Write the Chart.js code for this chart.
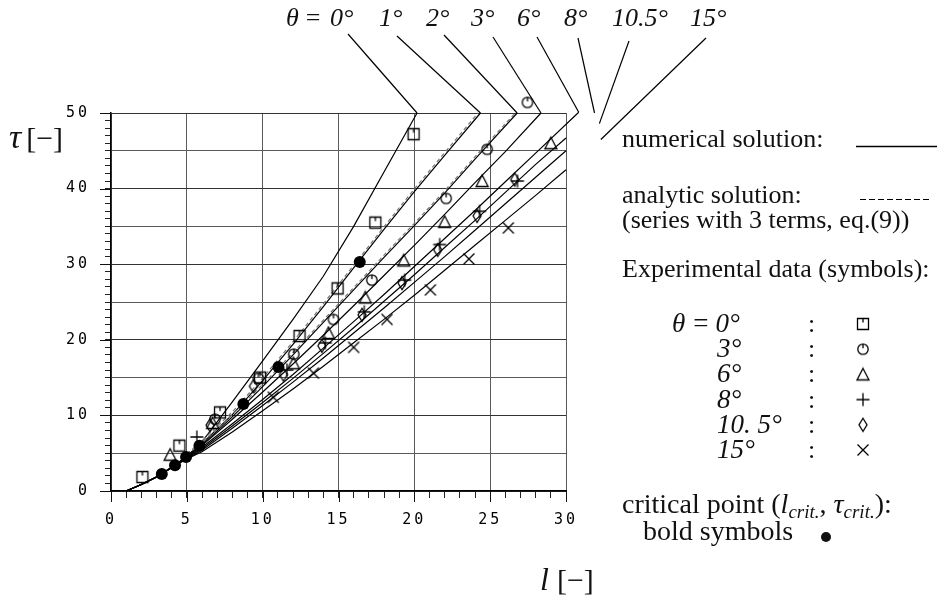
<!DOCTYPE html>
<html>
<head>
<meta charset="utf-8">
<title>tau over l</title>
<script src="https://cdn.jsdelivr.net/npm/chart.js@4.4.0/dist/chart.umd.min.js"></script>
<style>
  html, body { margin: 0; padding: 0; background: #fff; }
  #wrap { width: 942px; height: 600px; }
</style>
</head>
<body>
<div id="wrap"><canvas id="tauChart" width="942" height="600"></canvas></div>
<script>
// numerical solution, one pair of arrays per wedge angle (l, tau)
const num0L = [1, 2, 3, 4, 5, 6, 8, 10, 12, 14, 16, 18, 20.18];
const num0T = [0, 0.85, 1.85, 3.1, 4.6, 6.5, 11.8, 17.2, 22.7, 28.4, 35.0, 42.2, 50];
const num1L = [1, 2, 3, 4, 5, 6, 8, 10, 12, 14, 16, 18, 20, 22, 24.36];
const num1T = [0, 0.85, 1.85, 3.1, 4.55, 6.3, 10.1, 14.6, 19.4, 24.4, 29.5, 34.6, 39.6, 44.4, 50];
const num2L = [1, 2, 3, 4, 5, 6, 8, 10, 12, 14, 16, 18, 20, 22, 24, 26.78];
const num2T = [0, 0.85, 1.85, 3.1, 4.5, 6.1, 9.8, 13.8, 18.0, 22.3, 26.6, 30.9, 35.1, 39.4, 43.9, 50];
const num3L = [1, 2, 3, 4, 5, 6, 8, 10, 12, 14, 16, 18, 20, 22, 24, 26, 28.35];
const num3T = [0, 0.85, 1.85, 3.1, 4.45, 6.0, 9.5, 13.1, 16.8, 20.6, 24.5, 28.5, 32.5, 36.6, 40.8, 44.9, 50];
const num6L = [1, 2, 3, 4, 5, 6, 8, 10, 12, 14, 16, 18, 20, 22, 24, 26, 28, 30.84];
const num6T = [0, 0.85, 1.85, 3.1, 4.4, 5.8, 8.9, 12.1, 15.4, 18.9, 22.4, 26.0, 29.7, 33.4, 37.1, 40.9, 44.7, 50.1];
const num8L = [1, 2, 3, 4, 5, 6, 8, 10, 12, 14, 16, 18, 20, 22, 24, 26, 28, 30, 31.88];
const num8T = [0, 0.85, 1.85, 3.1, 4.35, 5.6, 8.6, 11.7, 14.9, 18.2, 21.6, 25.1, 28.6, 32.2, 35.8, 39.5, 43.2, 46.7, 50];
const num105L = [1, 2, 3, 4, 5, 6, 8, 10, 12, 14, 16, 18, 20, 22, 24, 26, 28, 30, 32.2];
const num105T = [0, 0.85, 1.85, 3.1, 4.3, 5.4, 8.3, 11.3, 14.4, 17.6, 20.9, 24.2, 27.6, 31.0, 34.5, 38.0, 41.5, 45.0, 48.6];
const num15L = [1, 2, 3, 4, 5, 6, 8, 10, 12, 14, 16, 18, 20, 22, 24, 26, 28, 30, 32.3];
const num15T = [0, 0.85, 1.85, 3.1, 4.25, 5.2, 7.8, 10.6, 13.5, 16.5, 19.6, 22.7, 25.9, 29.2, 32.5, 35.8, 39.1, 42.5, 46.5];

// analytic series (3 terms), drawn dashed
const ana1L = [5, 6, 8, 10, 12, 14, 16, 18, 20, 22, 24.2];
const ana1T = [4.9, 6.65, 10.45, 14.95, 19.75, 24.75, 29.85, 34.95, 39.95, 44.75, 50];
const ana2L = [5, 6, 8, 10, 12, 14, 16, 18, 20, 22, 24, 26.65];
const ana2T = [4.8, 6.4, 10.1, 14.1, 18.3, 22.6, 26.9, 31.2, 35.4, 39.7, 44.2, 50];

// experimental data
const sqL = [2.07, 4.51, 7.19, 9.83, 12.43, 14.94, 17.43, 19.95];
const sqT = [1.85, 6.0, 10.4, 15.0, 20.5, 26.8, 35.5, 47.2];
const circL = [6.86, 9.72, 12.05, 14.67, 17.2, 22.1, 24.8, 27.46];
const circT = [9.5, 14.9, 18.1, 22.7, 27.9, 38.7, 45.2, 51.4];
const triL = [3.9, 6.7, 12.03, 14.34, 16.77, 19.3, 22.0, 24.47, 29.0];
const triT = [4.8, 9.0, 16.9, 20.9, 25.6, 30.5, 35.6, 41.0, 46.0];
const plusL = [5.66, 11.6, 14.13, 16.7, 19.36, 21.67, 24.3, 26.8];
const plusT = [7.15, 16.0, 19.6, 23.7, 27.9, 32.6, 37.0, 41.0];
const diaL = [6.53, 9.39, 11.37, 13.9, 16.55, 19.19, 21.54, 24.14, 26.62];
const diaT = [8.7, 13.85, 15.4, 19.2, 23.3, 27.5, 31.9, 36.4, 41.2];
const crossL = [10.7, 13.35, 16.0, 18.2, 21.06, 23.6, 26.2];
const crossT = [12.4, 15.6, 19.0, 22.7, 26.6, 30.7, 34.8];

// critical points (bold)
const critL = [3.35, 4.22, 4.95, 5.83, 8.73, 11.04, 16.4];
const critT = [2.25, 3.4, 4.5, 6.0, 11.5, 16.4, 30.3];

const angleLabels = ['0°', '1°', '2°', '3°', '6°', '8°', '10.5°', '15°'];
const xTicks = [0, 5, 10, 15, 20, 25, 30];
const yTicks = [0, 10, 20, 30, 40, 50];

const SERIF = '"Liberation Serif", "DejaVu Serif", serif';
const INK = '#111';

function toPoints(ls, ts) {
    return ls.map((l, i) => ({ x: l, y: ts[i] }));
}

// little canvases used as point styles
function makeSymbol(kind) {
    const c = document.createElement('canvas');
    c.width = 16; c.height = 16;
    const g = c.getContext('2d');
    g.strokeStyle = '#000';
    g.lineWidth = 1.3;
    g.beginPath();
    switch (kind) {
        case 'square':
            g.rect(2.5, 2.5, 11, 11);
            g.moveTo(8, 2.5); g.lineTo(8, 6.5);
            break;
        case 'circle':
            g.arc(8, 8, 5.2, 0, Math.PI * 2);
            g.moveTo(8, 2.8); g.lineTo(8, 7);
            break;
        case 'triangle':
            g.moveTo(8, 2); g.lineTo(14, 13.5); g.lineTo(2, 13.5); g.closePath();
            break;
        case 'plus':
            g.moveTo(8, 1.5); g.lineTo(8, 14.5);
            g.moveTo(1.5, 8); g.lineTo(14.5, 8);
            break;
        case 'diamond':
            g.moveTo(8, 1.5); g.lineTo(12, 8); g.lineTo(8, 14.5); g.lineTo(4, 8); g.closePath();
            break;
        case 'cross':
            g.moveTo(2.5, 2.5); g.lineTo(13.5, 13.5);
            g.moveTo(13.5, 2.5); g.lineTo(2.5, 13.5);
            break;
    }
    g.stroke();
    return c;
}

const symbols = {
    square: makeSymbol('square'),
    circle: makeSymbol('circle'),
    triangle: makeSymbol('triangle'),
    plus: makeSymbol('plus'),
    diamond: makeSymbol('diamond'),
    cross: makeSymbol('cross')
};

function curve(ls, ts) {
    return {
        data: toPoints(ls, ts),
        showLine: true,
        pointRadius: 0,
        borderColor: '#000',
        borderWidth: 1.2,
        fill: false,
        clip: false,
        order: 3
    };
}

function dashed(ls, ts) {
    return {
        data: toPoints(ls, ts),
        showLine: true,
        pointRadius: 0,
        borderColor: '#777',
        borderWidth: 1.2,
        borderDash: [4, 3],
        clip: false,
        order: 2
    };
}

function markers(ls, ts, style) {
    return {
        data: toPoints(ls, ts),
        showLine: false,
        pointStyle: style,
        pointRadius: 8,
        clip: false,
        order: 1,
        isMarker: true
    };
}

const numericalCurves = [
    [num0L, num0T], [num1L, num1T], [num2L, num2T], [num3L, num3T],
    [num6L, num6T], [num8L, num8T], [num105L, num105T], [num15L, num15T]
];

const datasets = [
    {
        data: toPoints(critL, critT),
        showLine: false,
        pointStyle: 'circle',
        pointRadius: 6,
        backgroundColor: '#000',
        borderColor: '#000',
        borderWidth: 0,
        order: 0
    },
    markers(sqL, sqT, symbols.square),
    markers(circL, circT, symbols.circle),
    markers(triL, triT, symbols.triangle),
    markers(plusL, plusT, symbols.plus),
    markers(diaL, diaT, symbols.diamond),
    markers(crossL, crossT, symbols.cross),
    dashed(ana1L, ana1T),
    dashed(ana2L, ana2T)
].concat(numericalCurves.map(c => curve(c[0], c[1])));

// angle labels along the top and where their leader lines start
const topLabelX = [330, 379, 426, 471, 517, 564, 612, 690];
const leaderTop = [[348, 34], [397, 36], [444, 35], [493, 37], [537, 37], [578, 38], [629, 41], [706, 38]];

// writes a run of text pieces, each with its own font, returns the end x
function drawRun(ctx, pieces, x, y) {
    pieces.forEach(p => {
        ctx.font = p.font;
        ctx.fillText(p.text, x, y + (p.dy || 0));
        x += ctx.measureText(p.text).width + (p.gap || 0);
    });
    return x;
}

const figureText = {
    id: 'figureText',
    beforeDraw(chart) {
        chart.ctx.letterSpacing = '3px';
    },
    beforeDatasetsDraw(chart) {
        const { ctx, scales: { x, y } } = chart;
        ctx.letterSpacing = '0px';
        // longer marks at the labelled ticks
        ctx.save();
        ctx.strokeStyle = INK;
        ctx.lineWidth = 1;
        ctx.beginPath();
        xTicks.forEach(v => {
            const px = Math.round(x.getPixelForValue(v)) + 0.5;
            ctx.moveTo(px, y.bottom);
            ctx.lineTo(px, y.bottom + 11);
        });
        yTicks.forEach(v => {
            const py = Math.round(y.getPixelForValue(v)) + 0.5;
            ctx.moveTo(x.left - 11, py);
            ctx.lineTo(x.left, py);
        });
        ctx.stroke();
        ctx.restore();
    },
    afterDatasetsDraw(chart) {
        // symbols lying above the frame are skipped by the point element, put them in here
        const { ctx, chartArea: a } = chart;
        chart.data.datasets.forEach((ds, i) => {
            if (!ds.isMarker) return;
            chart.getDatasetMeta(i).data.forEach(pt => {
                if (pt.y < a.top - 4 || pt.x > a.right + 4) {
                    const img = ds.pointStyle;
                    ctx.drawImage(img, pt.x - img.width / 2, pt.y - img.height / 2);
                }
            });
        });
    },
    afterDraw(chart) {
        const { ctx, scales: { x, y } } = chart;
        ctx.save();
        ctx.letterSpacing = '0px';
        ctx.fillStyle = INK;
        ctx.strokeStyle = '#000';
        ctx.textBaseline = 'alphabetic';
        ctx.textAlign = 'left';

        // leader lines from each curve end up to its label
        ctx.lineWidth = 1.2;
        numericalCurves.forEach((c, i) => {
            const n = c[0].length - 1;
            ctx.beginPath();
            ctx.moveTo(x.getPixelForValue(c[0][n]), y.getPixelForValue(c[1][n]));
            ctx.lineTo(leaderTop[i][0], leaderTop[i][1]);
            ctx.stroke();
        });

        // angle labels
        const it26 = 'italic 26px ' + SERIF;
        const up26 = '26px ' + SERIF;
        drawRun(ctx, [
            { text: 'θ', font: it26, gap: 7 },
            { text: '=', font: up26, gap: 7 }
        ], 286, 26);
        angleLabels.forEach((a, i) => {
            ctx.font = it26;
            ctx.fillText(a, topLabelX[i], 26);
        });

        // axis titles
        drawRun(ctx, [
            { text: 'τ', font: 'italic 34px ' + SERIF, gap: 5 },
            { text: '[−]', font: '30px ' + SERIF }
        ], 9, 148);
        drawRun(ctx, [
            { text: 'l', font: 'italic 32px ' + SERIF, gap: 8 },
            { text: '[−]', font: '30px ' + SERIF }
        ], 540, 590);

        // key on the right
        ctx.font = up26;
        ctx.fillText('numerical solution:', 622, 147);
        ctx.lineWidth = 1.3;
        ctx.beginPath();
        ctx.moveTo(856, 146.5);
        ctx.lineTo(937, 146.5);
        ctx.stroke();

        ctx.fillText('analytic solution:', 622, 203);
        ctx.save();
        ctx.setLineDash([6, 3]);
        ctx.lineWidth = 1.2;
        ctx.beginPath();
        ctx.moveTo(860, 199.5);
        ctx.lineTo(931, 199.5);
        ctx.stroke();
        ctx.restore();
        ctx.fillText('(series with 3 terms, eq.(9))', 622, 228);
        ctx.fillText('Experimental data (symbols):', 622, 277);

        const it27 = 'italic 27px ' + SERIF;
        const rows = [
            { label: '0°', sym: symbols.square },
            { label: '3°', sym: symbols.circle },
            { label: '6°', sym: symbols.triangle },
            { label: '8°', sym: symbols.plus },
            { label: '10. 5°', sym: symbols.diamond },
            { label: '15°', sym: symbols.cross }
        ];
        rows.forEach((r, i) => {
            const base = 332 + i * 25.2;
            if (i === 0) {
                drawRun(ctx, [
                    { text: 'θ', font: it27, gap: 8 },
                    { text: '=', font: '27px ' + SERIF, gap: 7 },
                    { text: r.label, font: it27 }
                ], 672, base);
            } else {
                ctx.font = it27;
                ctx.fillText(r.label, 717, base);
            }
            ctx.font = up26;
            ctx.fillText(':', 808, base);
            ctx.drawImage(r.sym, 855, base - 16);
        });

        const up28 = '28px ' + SERIF;
        const it28 = 'italic 28px ' + SERIF;
        drawRun(ctx, [
            { text: 'critical point (', font: up28 },
            { text: 'l', font: it28 },
            { text: 'crit.', font: 'italic 19px ' + SERIF, dy: 5 },
            { text: ', ', font: up28 },
            { text: 'τ', font: it28 },
            { text: 'crit.', font: 'italic 19px ' + SERIF, dy: 5 },
            { text: '):', font: up28 }
        ], 622, 513);
        ctx.font = up28;
        ctx.fillText('bold symbols', 643, 540);
        ctx.beginPath();
        ctx.arc(826, 537, 5, 0, Math.PI * 2);
        ctx.fill();
        ctx.restore();
    }
};

const tickFont = { family: '"DejaVu Sans Mono", monospace', size: 15 };

function gridColor(step, strong) {
    return c => {
        if (!c.tick) return 'rgba(0,0,0,0)';
        const v = Math.round(c.tick.value);
        if (v % step !== 0) return 'rgba(0,0,0,0)';
        return strong && v % strong === 0 ? '#333' : '#5a5a5a';
    };
}

const ctx = document.getElementById('tauChart').getContext('2d');
new Chart(ctx, {
    type: 'scatter',
    data: { datasets: datasets },
    options: {
        responsive: false,
        animation: false,
        events: [],
        layout: { padding: { left: 51, top: 113, right: 376, bottom: 59 } },
        plugins: {
            legend: { display: false },
            tooltip: { enabled: false }
        },
        scales: {
            x: {
                type: 'linear',
                min: 0,
                max: 30,
                afterFit: s => { s.height = 50; },
                ticks: {
                    stepSize: 1,
                    autoSkip: false,
                    maxRotation: 0,
                    padding: 13,
                    color: '#000',
                    font: tickFont,
                    callback: v => (xTicks.includes(v) ? String(v) : '')
                },
                grid: {
                    color: gridColor(5, 0),
                    lineWidth: 1,
                    tickLength: 7,
                    tickColor: '#222',
                    tickWidth: 1
                },
                border: { display: true, color: '#000', width: 1.5 }
            },
            y: {
                type: 'linear',
                min: 0,
                max: 50,
                afterFit: s => { s.width = 60; },
                ticks: {
                    stepSize: 1,
                    autoSkip: false,
                    padding: 15,
                    color: '#000',
                    font: tickFont,
                    callback: v => (yTicks.includes(v) ? String(v) : '')
                },
                grid: {
                    color: gridColor(5, 10),
                    lineWidth: 1,
                    tickLength: 6,
                    tickColor: '#222',
                    tickWidth: 1
                },
                border: { display: true, color: '#000', width: 1.5 }
            }
        }
    },
    plugins: [figureText]
});
</script>
</body>
</html>
